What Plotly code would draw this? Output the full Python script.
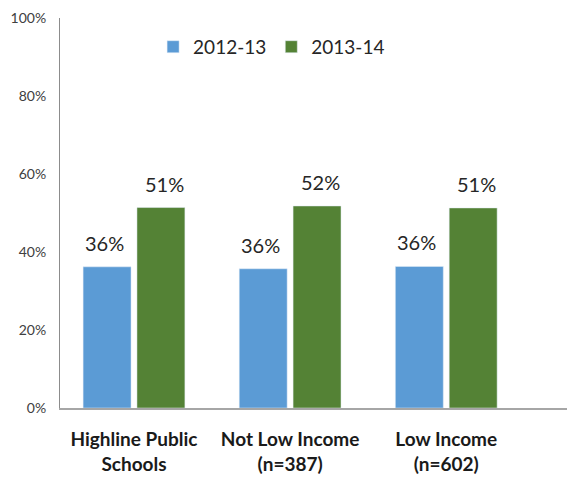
import plotly.graph_objects as go

# groups on the x axis and the two school years
categories = ["Highline Public<br>Schools", "Not Low Income<br>(n=387)", "Low Income<br>(n=602)"]
years = ["2012-13", "2013-14"]
vals_2012 = [0.362, 0.357, 0.363]
vals_2013 = [0.514, 0.518, 0.513]
labels_2012 = ["36%", "36%", "36%"]
labels_2013 = ["51%", "52%", "51%"]

blue = "#5B9BD5"
green = "#548235"
font_name = "Lato, 'Open Sans', sans-serif"

fig = go.Figure()
fig.add_trace(go.Bar(x=categories, y=vals_2012, name=years[0], marker_color=blue))
fig.add_trace(go.Bar(x=categories, y=vals_2013, name=years[1], marker_color=green))

# value labels sit a bit above each bar
for cat, v, t in zip(categories, vals_2012, labels_2012):
    fig.add_annotation(x=cat, y=v, text=t, showarrow=False, xshift=-30, yshift=10,
                       yanchor="bottom", font=dict(size=20, color="#262626"))
for cat, v, t in zip(categories, vals_2013, labels_2013):
    fig.add_annotation(x=cat, y=v, text=t, showarrow=False, xshift=30, yshift=10,
                       yanchor="bottom", font=dict(size=20, color="#262626"))

fig.update_layout(
    width=575, height=487,
    margin=dict(l=52, r=0, t=10, b=87),
    paper_bgcolor="white", plot_bgcolor="white",
    font=dict(family=font_name, color="#262626"),
    barmode="group", bargap=0.31, bargroupgap=0.11,
    showlegend=True,
    legend=dict(orientation="h", x=0.178, y=0.926, xanchor="left", yanchor="middle",
                font=dict(size=19, color="#262626"), bgcolor="rgba(0,0,0,0)"),
)
fig.update_xaxes(range=[-0.474, 2.876], showline=True, linecolor="#a6a6a6", linewidth=2,
                 ticks="", tickfont=dict(size=19, color="#1a1a1a", family=font_name, weight="bold"),
                 ticklabelstandoff=13)
fig.update_yaxes(range=[0, 1], tickformat=".0%", dtick=0.2, showgrid=False,
                 showline=True, linecolor="#8c8c8c", linewidth=1, ticks="",
                 tickfont=dict(size=14, color="#404040"), ticklabelstandoff=10,
                 zeroline=False)

fig.write_html("out.html")
